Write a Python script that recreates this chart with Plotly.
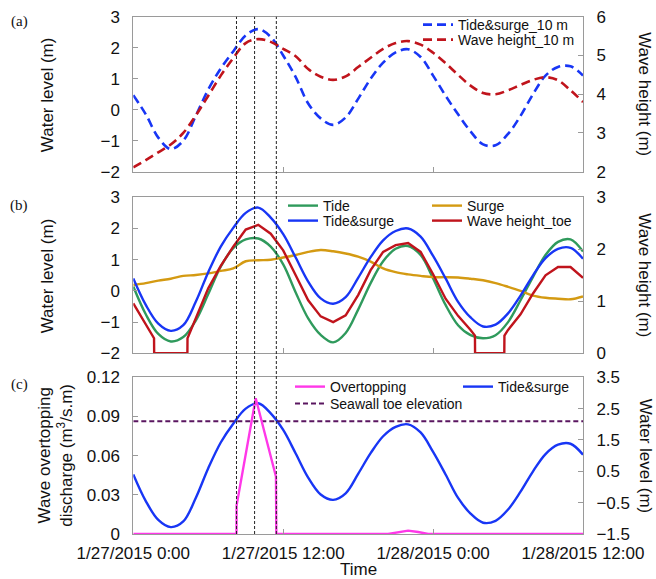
import pandas as pd
import plotly.graph_objects as go

# ---------------- data ----------------
base = pd.Timestamp("2015-01-27 00:00")
hours = list(range(37))

# (a) conditions at 10 m depth
tide_surge_10m = [0.47, -0.15, -0.9, -1.27, -1.0, -0.2, 0.65, 1.33, 1.88, 2.4, 2.6, 2.35,
                  1.75, 1.05, 0.2, -0.28, -0.49, -0.25, 0.35, 1.0, 1.52, 1.85, 1.95, 1.7,
                  1.1, 0.45, -0.15, -0.7, -1.12, -1.15, -0.78, -0.2, 0.5, 1.1, 1.38, 1.4, 1.1]
wave_height_10m = [2.11, 2.3, 2.5, 2.7, 3.0, 3.45, 3.96, 4.48, 4.93, 5.32, 5.42, 5.35,
                   5.17, 4.98, 4.65, 4.45, 4.37, 4.46, 4.7, 4.94, 5.17, 5.32, 5.37, 5.28,
                   5.07, 4.8, 4.5, 4.22, 4.03, 4.0, 4.1, 4.24, 4.37, 4.44, 4.36, 4.1, 3.8]

# (b) conditions at the seawall toe
tide = [0.14, -0.75, -1.38, -1.62, -1.48, -0.95, -0.1, 0.78, 1.37, 1.65, 1.68, 1.42,
        0.85, -0.05, -0.88, -1.41, -1.65, -1.35, -0.6, 0.25, 0.95, 1.35, 1.44, 1.15,
        0.4, -0.45, -1.1, -1.42, -1.52, -1.42, -1.0, -0.3, 0.45, 1.15, 1.57, 1.65, 1.26]
surge = [0.19, 0.25, 0.33, 0.39, 0.48, 0.51, 0.56, 0.64, 0.72, 0.95, 0.98, 1.0,
         1.07, 1.15, 1.25, 1.31, 1.27, 1.2, 1.1, 0.94, 0.72, 0.6, 0.53, 0.48,
         0.44, 0.44, 0.43, 0.39, 0.34, 0.25, 0.13, 0.0, -0.15, -0.22, -0.25, -0.27, -0.18]
tide_surge = [0.4, -0.45, -1.05, -1.28, -1.1, -0.35, 0.6, 1.42, 2.02, 2.5, 2.67, 2.35,
              1.82, 1.07, 0.3, -0.24, -0.41, -0.2, 0.42, 1.08, 1.62, 1.92, 2.0, 1.74,
              1.12, 0.4, -0.35, -0.85, -1.14, -1.08, -0.72, -0.15, 0.5, 1.05, 1.35, 1.38, 1.03]
toe_hours = [0, 1, 1.66, 1.67, 2, 3, 4, 4.33, 4.34, 5, 6, 7, 8, 9, 10, 11, 12, 13, 14, 15,
             16, 17, 18, 19, 20, 21, 22, 23, 24, 25, 26, 27, 27.35, 27.36, 28, 29, 29.7,
             29.71, 30, 31, 32, 33, 34, 35, 36]
wave_height_toe = [0.96, 0.55, 0.29, 0.0, 0.0, 0.0, 0.0, 0.0, 0.29, 0.67, 1.25, 1.68, 2.05,
                   2.38, 2.47, 2.3, 1.98, 1.5, 1.02, 0.71, 0.6, 0.73, 1.12, 1.6, 1.95, 2.08,
                   2.12, 1.95, 1.52, 1.05, 0.72, 0.45, 0.34, 0.0, 0.0, 0.0, 0.0, 0.34, 0.45,
                   0.75, 1.15, 1.5, 1.66, 1.66, 1.45]

# (c) overtopping
ot_hours = [0, 8.26, 8.27, 9.8, 11.42, 11.45, 20.4, 21.2, 22.0, 22.8, 23.6, 36]
overtopping = [0, 0, 0.022, 0.104, 0.044, 0, 0, 0.0015, 0.0026, 0.0015, 0, 0]
seawall_toe_elevation = 2.1

# event markers (hours)
event_hours = [8.26, 9.71, 11.45]

x_ticks = [0, 12, 24, 36]


def t(hs):
    return [base + pd.Timedelta(hours=h) for h in hs]


# ---------------- figure ----------------
W, H = 656, 579
FONT = "Liberation Sans, Arial, sans-serif"
BLUE = "#1836f5"
DRED = "#c0141c"
GREEN = "#2f9a5c"
GOLD = "#d49a12"
MAGENTA = "#ff38e8"
PURPLE = "#5a1660"
AX = "#9a9a9a"


def px(v):
    return v / W


def py(v):
    return 1 - v / H


fig = go.Figure()


def add(xh, y, name, xa, ya, leg, line):
    fig.add_trace(go.Scatter(x=t(xh), y=y, name=name, xaxis=xa, yaxis=ya, legend=leg,
                             mode="lines", line=line))


# (a)
add(hours, tide_surge_10m, "Tide&surge_10 m", "x", "y", "legend",
    dict(color=BLUE, width=2.6, dash="9px,5px", shape="spline"))
add(hours, wave_height_10m, "Wave height_10 m", "x", "y2", "legend2",
    dict(color=DRED, width=2.6, dash="9px,5px", shape="spline"))
# (b)
add(hours, tide, "Tide", "x2", "y3", "legend3",
    dict(color=GREEN, width=2.4, shape="spline"))
add(hours, surge, "Surge", "x2", "y3", "legend4",
    dict(color=GOLD, width=2.4, shape="spline"))
add(hours, tide_surge, "Tide&surge", "x2", "y3", "legend5",
    dict(color=BLUE, width=2.4, shape="spline"))
add(toe_hours, wave_height_toe, "Wave height_toe", "x2", "y4", "legend6",
    dict(color=DRED, width=2.4))
# (c)
add(hours, tide_surge, "Tide&surge", "x3", "y6", "legend8",
    dict(color=BLUE, width=2.4, shape="spline"))
add([hours[0], hours[-1]], [seawall_toe_elevation, seawall_toe_elevation],
    "Seawall toe elevation", "x3", "y6", "legend9",
    dict(color=PURPLE, width=2, dash="5px,3px"))
add(ot_hours, overtopping, "Overtopping", "x3", "y5", "legend7",
    dict(color=MAGENTA, width=2.4))

XL, XR = 133.3, 583.0
panels = {"a": (16.7, 171.7), "b": (197.3, 353.3), "c": (377.3, 534.0)}
xdom = [px(XL), px(XR)]

x_range = [base, base + pd.Timedelta(hours=36)]
tick_font = dict(family=FONT, size=17, color="#111")


def xaxis(show_labels, anchor):
    return dict(domain=xdom, range=x_range, type="date", anchor=anchor,
                tickvals=t(x_ticks), tickformat="%-m/%-d/%Y %-H:%M",
                showticklabels=show_labels, ticks="inside", ticklen=5,
                tickcolor=AX, showline=True, linecolor=AX, linewidth=1,
                mirror=True, showgrid=False, zeroline=False, tickfont=tick_font,
                ticklabelstandoff=4, automargin=False)


def yaxis(dom, rng, side, anchor, tickvals, overlaying=None):
    d = dict(domain=dom, range=rng, side=side, anchor=anchor, ticks="inside",
             ticklen=5, tickcolor=AX, showline=True, linecolor=AX, linewidth=1,
             showgrid=False, zeroline=False, tickfont=tick_font,
             ticklabelstandoff=9, automargin=False, tickvals=tickvals)
    if overlaying:
        d["overlaying"] = overlaying
    return d


da = [py(panels["a"][1]), py(panels["a"][0])]
db = [py(panels["b"][1]), py(panels["b"][0])]
dc = [py(panels["c"][1]), py(panels["c"][0])]

legend_font = dict(family=FONT, size=14, color="#111")


def leg(text_x, row_y):
    # plotly puts legend text 40 px right of the legend's left edge
    return dict(x=px(text_x - 40), xanchor="left", y=py(row_y), yanchor="middle",
                bgcolor="rgba(0,0,0,0)", borderwidth=0, font=legend_font,
                itemwidth=30)


fig.update_layout(
    template="none",
    width=W, height=H,
    margin=dict(l=0, r=0, t=0, b=0, pad=0),
    paper_bgcolor="white", plot_bgcolor="white",
    font=dict(family=FONT, color="#111"),
    xaxis=xaxis(False, "y"),
    xaxis2=xaxis(False, "y3"),
    xaxis3=xaxis(True, "y6"),
    yaxis=yaxis(da, [-2, 3], "left", "x", [-2, -1, 0, 1, 2, 3]),
    yaxis2=yaxis(da, [2, 6], "right", "x", [2, 3, 4, 5, 6], overlaying="y"),
    yaxis3=yaxis(db, [-2, 3], "left", "x2", [-2, -1, 0, 1, 2, 3]),
    yaxis4=yaxis(db, [0, 3], "right", "x2", [0, 1, 2, 3], overlaying="y3"),
    yaxis6=yaxis(dc, [-1.5, 3.5], "right", "x3", [-1.5, -0.5, 0.5, 1.5, 2.5, 3.5]),
    yaxis5=yaxis(dc, [0, 0.12], "left", "x3", [0, 0.03, 0.06, 0.09, 0.12],
                 overlaying="y6"),
    legend=leg(458, 25),
    legend2=leg(458, 40),
    legend3=leg(323, 206),
    legend4=leg(467, 206),
    legend5=leg(323, 221),
    legend6=leg(467, 221),
    legend7=leg(330, 387),
    legend8=leg(498, 387),
    legend9=leg(330, 404),
    showlegend=True,
)

# event marker lines spanning all panels
for h in event_hours:
    fig.add_shape(type="line", xref="x", yref="paper",
                  x0=base + pd.Timedelta(hours=h), x1=base + pd.Timedelta(hours=h),
                  y0=py(panels["c"][1]), y1=py(panels["a"][0]),
                  line=dict(color="#222", width=1, dash="3px,2px"), layer="above")

title_font = dict(family=FONT, size=17, color="#111")
ann = []


def note(text, x, y, font, angle=0):
    ann.append(dict(text=text, x=px(x), y=py(y), xref="paper", yref="paper",
                    xanchor="center", yanchor="middle", showarrow=False,
                    textangle=angle, font=font))


serif = dict(family="Liberation Serif, Times New Roman, serif", size=15, color="#111")
for lab, yy in [("(a)", 21), ("(b)", 205), ("(c)", 384)]:
    note(lab, 19, yy, serif)
for key in ["a", "b"]:
    note("Water level (m)", 47, sum(panels[key]) / 2, title_font, -90)
note("Wave overtopping<br>discharge (m<sup>3</sup>/s.m)", 56, sum(panels["c"]) / 2,
     title_font, -90)
for key, txt in [("a", "Wave height (m)"), ("b", "Wave height (m)"), ("c", "Water level (m)")]:
    note(txt, 645, sum(panels[key]) / 2, title_font, 90)
note("Time", (XL + XR) / 2, 569, title_font)
fig.update_layout(annotations=ann)

fig.write_html("out.html", config={"displayModeBar": False},
               post_script="document.body.style.margin='0px';")
